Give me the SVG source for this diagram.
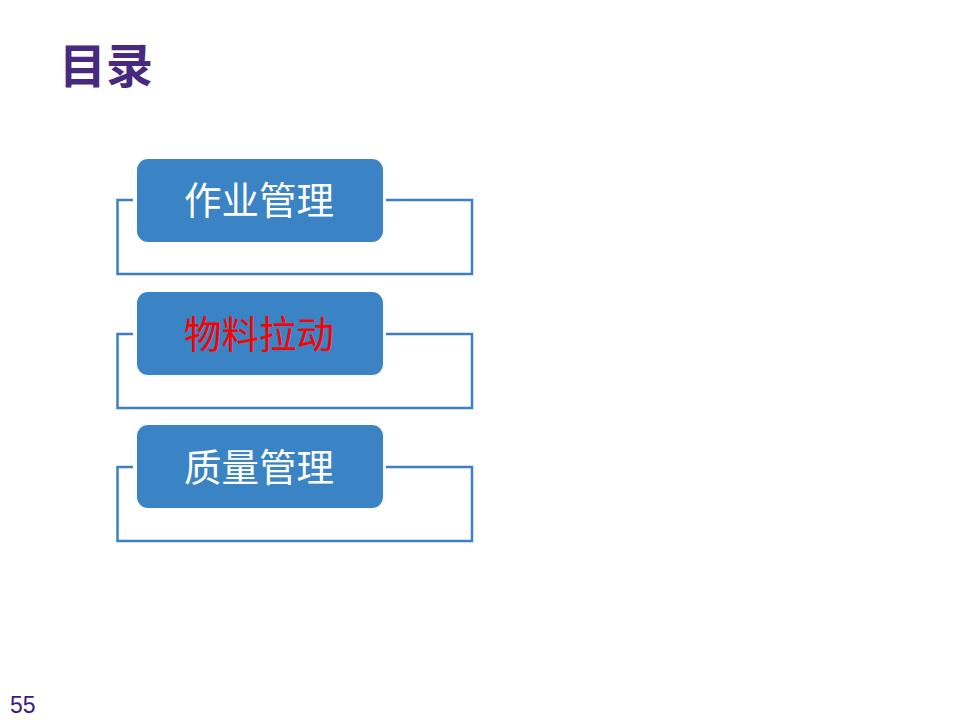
<svg xmlns="http://www.w3.org/2000/svg" width="960" height="720" viewBox="0 0 960 720">
<style>
.frame{fill:none;stroke:#3a80c2;stroke-width:2.5}
.box{fill:#3a84c5}
.lbl{font-family:"Noto Sans CJK SC","Liberation Sans",sans-serif;font-size:37.5px;fill:#ffffff;text-anchor:middle;dominant-baseline:central}
</style>
<rect width="960" height="720" fill="#ffffff"/>
<text x="59" y="83" font-family="Noto Sans CJK SC,Liberation Sans,sans-serif" font-size="47" font-weight="bold" fill="#472a80">目录</text>
<g id="connectors">
<path class="frame" d="M133,200 H117.5 V274 H472 V200 H386"/>
<path class="frame" d="M133,334 H117.5 V408 H472 V334 H386"/>
<path class="frame" d="M133,467 H117.5 V541 H472 V467 H386"/>
</g>
<g id="node1"><rect class="box" x="137" y="159" width="246" height="83" rx="11"/><text class="lbl" x="259" y="197">作业管理</text></g>
<g id="node2"><rect class="box" x="137" y="292" width="246" height="83" rx="11"/><text class="lbl" x="259" y="331" style="fill:#ff0000">物料拉动</text></g>
<g id="node3"><rect class="box" x="137" y="425" width="246" height="83" rx="11"/><text class="lbl" x="259" y="464">质量管理</text></g>
<text x="10" y="713" font-family="Liberation Sans,sans-serif" font-size="23" fill="#3a1a78">55</text>
</svg>
